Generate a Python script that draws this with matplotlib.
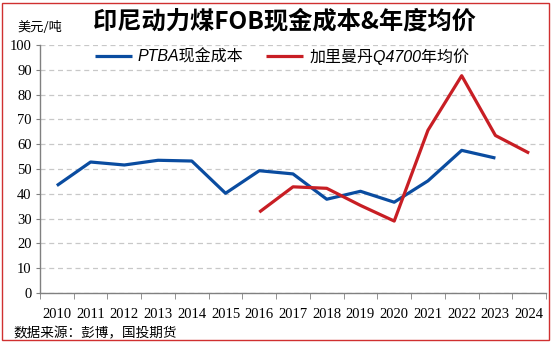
import matplotlib.pyplot as plt
import matplotlib.patches as patches
import numpy as np

plt.rcParams['font.family'] = ['Noto Sans CJK SC', 'DejaVu Sans']

years = ['2010', '2011', '2012', '2013', '2014', '2015', '2016', '2017',
         '2018', '2019', '2020', '2021', '2022', '2023', '2024']
ptba_cost = [43.3, 52.8, 51.6, 53.5, 53.2, 40.2, 49.3, 48.0, 37.8, 41.0, 36.6, 45.2, 57.5, 54.4, np.nan]
kal_price = [np.nan, np.nan, np.nan, np.nan, np.nan, np.nan, 32.6, 42.8, 42.2, 35.3, 29.0, 65.6, 87.6, 63.5, 56.4]

blue = '#0A4CA0'
red = '#C81E24'
serif = 'Liberation Serif'

fig = plt.figure(figsize=(5.54, 3.43), dpi=100)
ax = fig.add_axes([0.0722, 0.1458, 0.9134, 0.7232])

x = np.arange(len(years))
ax.plot(x, ptba_cost, color=blue, lw=2.3, label='PTBA现金成本', solid_capstyle='butt')
ax.plot(x, kal_price, color=red, lw=2.3, label='加里曼丹Q4700年均价', solid_capstyle='butt')

ax.set_xlim(-0.5, len(years) - 0.5)
ax.set_ylim(0, 100)
ax.set_yticks(range(0, 101, 10))
ax.set_xticks(x)
ax.set_xticklabels(years)
ax.set_xticks(np.arange(-0.5, len(years), 1), minor=True)
ax.tick_params(axis='x', which='major', length=0, pad=11)
ax.tick_params(axis='x', which='minor', length=4, color='#808080', direction='out')
ax.tick_params(axis='y', length=3, color='#808080', pad=3)
for lab in ax.get_xticklabels() + ax.get_yticklabels():
    lab.set_fontfamily(serif)
    lab.set_fontsize(10.5)

ax.grid(axis='y', linestyle=(0, (4, 3)), color='#C8C8C8', lw=0.9)
ax.set_axisbelow(True)
for s in ['top', 'right']:
    ax.spines[s].set_visible(False)
for s in ['left', 'bottom']:
    ax.spines[s].set_color('#808080')
    ax.spines[s].set_linewidth(1.0)

leg = ax.legend(loc='upper left', bbox_to_anchor=(0.08, 1.045), ncol=2, frameon=False,
                handlelength=2.3, columnspacing=1.4, handletextpad=0.4,
                prop={'family': ['Liberation Sans', 'Noto Sans CJK SC'], 'size': 11.5,
                      'style': 'italic'})

fig.text(0.514, 0.936, '印尼动力煤FOB现金成本&年度均价', ha='center', va='center',
         fontsize=17.5, fontweight='bold')
fig.text(0.032, 0.92, '美元/吨', ha='left', va='center', fontsize=9.5)
fig.text(0.025, 0.028, '数据来源：彭博，国投期货', ha='left', va='center', fontsize=9.8)

border = patches.Rectangle((2 / 554, 3 / 343), 547 / 554, 337 / 343, transform=fig.transFigure,
                           fill=False, edgecolor='#D03030', lw=1.0)
fig.patches.append(border)

fig.savefig('out.png', dpi=100)
